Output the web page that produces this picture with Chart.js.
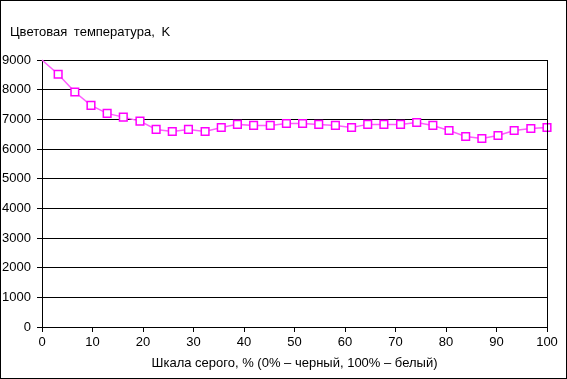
<!DOCTYPE html>
<html>
<head>
<meta charset="utf-8">
<script src="https://cdn.jsdelivr.net/npm/chart.js@4/dist/chart.umd.min.js"></script>
<style>
html,body{margin:0;padding:0;background:#fff;}
#c{display:block;}
</style>
</head>
<body>
<canvas id="c" width="567" height="379"></canvas>
<script>
const chartTitle = "Цветовая температура, K";
const xAxisTitle = "Шкала серого, % (0% – черный, 100% – белый)";
const grayLevels = [0, 3.2, 6.5, 9.7, 12.9, 16.1, 19.4, 22.6, 25.8, 29.0, 32.3, 35.5, 38.7, 41.9, 45.2, 48.4,
  51.6, 54.8, 58.1, 61.3, 64.5, 67.7, 71.0, 74.2, 77.4, 80.6, 83.9, 87.1, 90.3, 93.5, 96.8, 100];
const colorTemps = [9000, 8520, 7920, 7470, 7200, 7075, 6940, 6660, 6590, 6660, 6590, 6725, 6830, 6795, 6795, 6860,
  6860, 6830, 6795, 6725, 6830, 6830, 6830, 6895, 6795, 6625, 6420, 6355, 6455, 6625, 6690, 6725];
const markerShown = [false, true, true, true, true, true, true, true, true, true, true, true, true, true, true, true,
  true, true, true, true, true, true, true, true, true, true, true, true, true, true, true, true];

const FONT = "'Liberation Sans', Arial, sans-serif";

const framePlugin = {
  id: 'frame',
  beforeDraw(chart) {
    const ctx = chart.ctx;
    ctx.save();
    ctx.fillStyle = '#fff';
    ctx.fillRect(0, 0, chart.width, chart.height);
    ctx.restore();
  },
  afterDraw(chart) {
    const ctx = chart.ctx;
    const a = chart.chartArea;
    ctx.save();
    ctx.strokeStyle = '#000';
    ctx.lineWidth = 1;
    ctx.strokeRect(0.5, 0.5, chart.width - 1, chart.height - 1);
    ctx.beginPath();
    ctx.moveTo(Math.round(a.right) + 0.5, a.top);
    ctx.lineTo(Math.round(a.right) + 0.5, a.bottom);
    ctx.stroke();
    ctx.fillStyle = '#000';
    ctx.font = '13px ' + FONT;
    ctx.textBaseline = 'middle';
    ctx.textAlign = 'left';
    if ('wordSpacing' in ctx) ctx.wordSpacing = '3px';
    ctx.fillText(chartTitle, 10, 32);
    ctx.restore();
  }
};

const points = grayLevels.map((x, i) => ({x: x, y: colorTemps[i]}));

new Chart(document.getElementById('c'), {
  type: 'line',
  data: {
    datasets: [{
      data: points,
      borderColor: '#ff5cff',
      borderWidth: 1.5,
      pointStyle: 'rect',
      pointRadius: markerShown.map(s => s ? 5.4 : 0),
      pointBorderColor: '#ff00ff',
      pointBackgroundColor: '#ffffff',
      pointBorderWidth: 1.5,
      tension: 0,
      clip: false
    }]
  },
  options: {
    responsive: false,
    animation: false,
    devicePixelRatio: 1,
    layout: {padding: {left: 0, right: 20, top: 60, bottom: 0}},
    plugins: {legend: {display: false}, tooltip: {enabled: false}, title: {display: false}},
    scales: {
      x: {
        type: 'linear',
        min: 0, max: 100,
        afterFit: s => { s.height = 52; },
        ticks: {stepSize: 10, color: '#000', font: {family: FONT, size: 13}, padding: 3, maxRotation: 0},
        grid: {drawOnChartArea: false, drawTicks: true, tickLength: 5, color: '#000', lineWidth: 1},
        border: {display: true, color: '#000', width: 1},
        title: {display: true, text: xAxisTitle, color: '#000', font: {family: FONT, size: 13}, padding: {top: 4, bottom: 8}}
      },
      y: {
        min: 0, max: 9000,
        afterFit: s => { s.width = 42; },
        ticks: {stepSize: 1000, color: '#000', font: {family: FONT, size: 13}, padding: 6, callback: v => String(v)},
        grid: {drawOnChartArea: true, drawTicks: true, tickLength: 5, color: '#000', lineWidth: 1},
        border: {display: true, color: '#000', width: 1}
      }
    }
  },
  plugins: [framePlugin]
});
</script>
</body>
</html>
